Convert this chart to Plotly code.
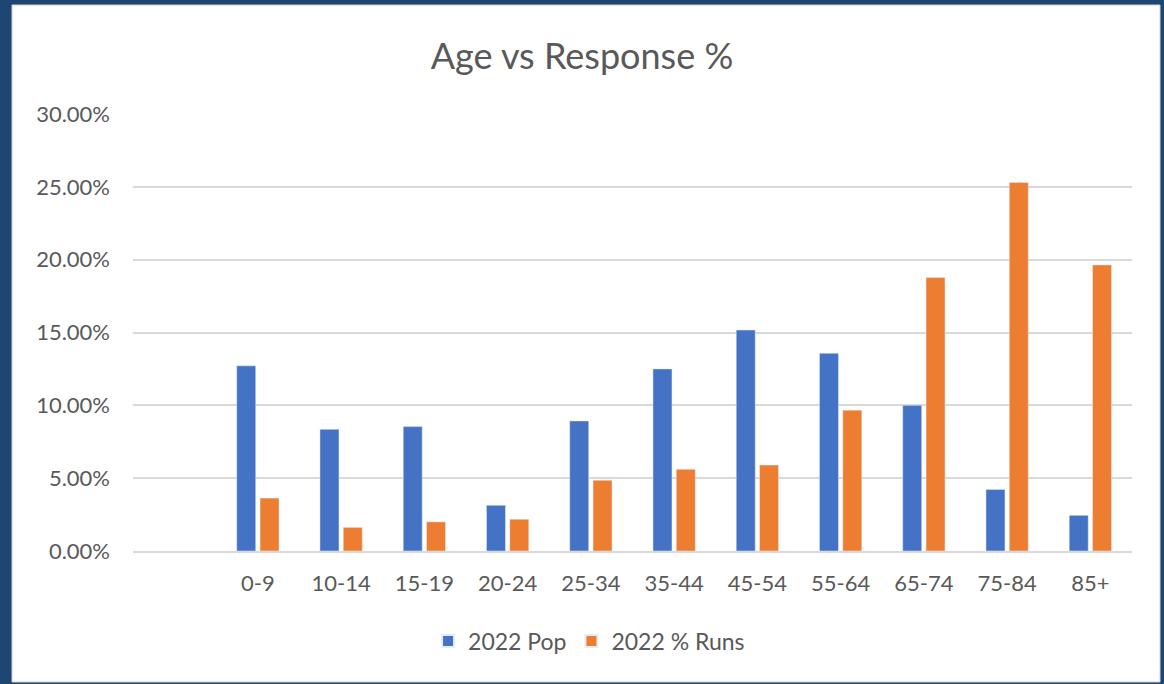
import plotly.graph_objects as go

categories = ["0-9", "10-14", "15-19", "20-24", "25-34", "35-44", "45-54", "55-64", "65-74", "75-84", "85+"]
pop_2022 = [0.1271, 0.0835, 0.0854, 0.0314, 0.0893, 0.1250, 0.1517, 0.1357, 0.1000, 0.0423, 0.0245]
runs_2022 = [0.0363, 0.0162, 0.0200, 0.0218, 0.0486, 0.0561, 0.0590, 0.0967, 0.1877, 0.2530, 0.1964]
y_ticks = [0, 0.05, 0.10, 0.15, 0.20, 0.25, 0.30]

FONT = "Lato, 'Open Sans', sans-serif"
TEXT = "#595959"

fig = go.Figure()
fig.add_trace(go.Bar(x=categories, y=pop_2022, name="2022 Pop", marker_color="#4472C4"))
fig.add_trace(go.Bar(x=categories, y=runs_2022, name="2022 % Runs", marker_color="#ED7D31"))

fig.update_layout(
    width=1164, height=684,
    margin=dict(l=133, r=32, t=114, b=133),
    paper_bgcolor="#1d4673",
    plot_bgcolor="white",
    barmode="group",
    bargap=0.44,
    bargroupgap=0.185,
    title=dict(text="Age vs Response %", x=0.5, xanchor="center", y=1 - 56/684, yanchor="middle",
               font=dict(family=FONT, size=36, color=TEXT)),
    font=dict(family=FONT, color=TEXT),
    legend=dict(orientation="h", x=0.4565, xanchor="center", y=-(641-551)/437, yanchor="middle",
                font=dict(family=FONT, size=23, color=TEXT), traceorder="normal",
                itemsizing="constant", itemwidth=30, bgcolor="rgba(0,0,0,0)"),
    shapes=[dict(type="rect", xref="paper", yref="paper",
                 x0=-(133-12)/999, x1=1 + (1160-1132)/999,
                 y0=-(682-551)/437, y1=1 + (114-5)/437,
                 fillcolor="white", line=dict(color="#d0d0d0", width=1), layer="below")],
)
fig.update_xaxes(
    type="category", range=[-1.5, 10.5],
    showline=True, linecolor="#D9D9D9", linewidth=1.5,
    showgrid=False, ticks="",
    tickfont=dict(family=FONT, size=22, color=TEXT),
    ticklabelstandoff=12,
)
fig.update_yaxes(
    range=[0, 0.30], tickvals=y_ticks, tickformat=".2%",
    showgrid=True, gridcolor="#D9D9D9", gridwidth=1.5,
    zeroline=False, showline=False, ticks="",
    tickfont=dict(family=FONT, size=22, color=TEXT),
    ticklabelstandoff=22,
)
fig.write_html("out.html", config={"displayModeBar": False},
               post_script="document.body.style.margin='0';")
